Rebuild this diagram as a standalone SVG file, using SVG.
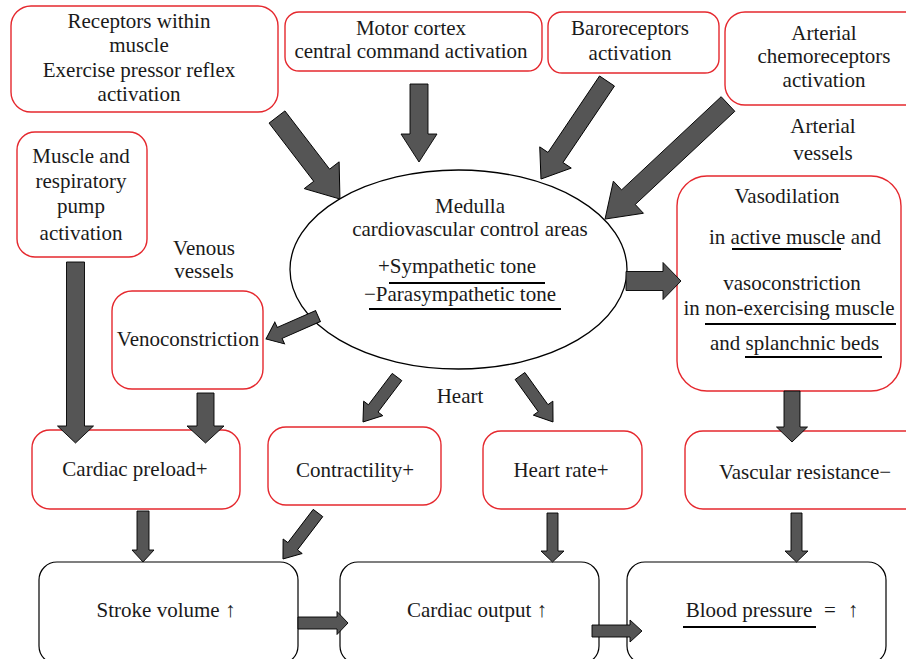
<svg xmlns="http://www.w3.org/2000/svg" width="906" height="659" viewBox="0 0 906 659">
<style>
  text { font-family: 'Liberation Serif', 'DejaVu Serif', serif; font-size: 21px; fill: #1a1a1a; text-anchor: middle; }
  .arrow-glyph { font-family: 'Liberation Serif', 'DejaVu Serif', serif; }
  .rb { fill: #fff; stroke: #e5282e; stroke-width: 1.4; }
  .bb { fill: #fff; stroke: #000; stroke-width: 1.2; }
  .ar { fill: #555; stroke: #000; stroke-width: 0.9; stroke-linejoin: miter; }
  .ul { stroke: #000; stroke-width: 2; }
</style>
<rect width="906" height="659" fill="#fff"/>

<g id="receptors"><rect class="rb" x="11" y="6" width="267" height="106" rx="20"/>
<text x="139" y="28" font-family="Liberation Serif, serif">Receptors within</text><text x="139" y="52">muscle</text><text x="139" y="77">Exercise pressor reflex</text><text x="139" y="101">activation</text></g>

<g id="motor"><rect class="rb" x="285" y="12" width="257" height="59" rx="14"/>
<text x="411" y="35">Motor cortex</text><text x="411" y="58">central command activation</text></g>

<g id="baro"><rect class="rb" x="548" y="12" width="171" height="61" rx="14"/>
<text x="630" y="35">Baroreceptors</text><text x="630" y="60">activation</text></g>

<g id="chemo"><rect class="rb" x="725" y="12" width="200" height="93" rx="20"/>
<text x="824" y="40">Arterial</text><text x="824" y="63">chemoreceptors</text><text x="824" y="87">activation</text></g>

<g id="arterial-label"><text x="823" y="133">Arterial</text><text x="823" y="160">vessels</text></g>

<g id="pump"><rect class="rb" x="17" y="132" width="130" height="125" rx="18"/>
<text x="81" y="163">Muscle and</text><text x="81" y="188">respiratory</text><text x="81" y="213">pump</text><text x="81" y="240">activation</text></g>

<g id="venous-label"><text x="204" y="255">Venous</text><text x="204" y="278">vessels</text></g>

<g id="veno"><rect class="rb" x="112" y="291" width="151" height="98" rx="20"/>
<text x="188" y="346">Venoconstriction</text></g>

<g id="medulla"><ellipse cx="458.5" cy="269.5" rx="168.5" ry="99.5" fill="#fff" stroke="#000" stroke-width="1.3"/>
<text x="470" y="213">Medulla</text><text x="470" y="236">cardiovascular control areas</text>
<text x="457" y="273">+Sympathetic tone</text><text x="460" y="301">−Parasympathetic tone</text>
<line class="ul" x1="389" y1="283" x2="545" y2="283"/><line class="ul" x1="369" y1="309" x2="561" y2="309"/></g>

<g id="heart-label"><text x="460" y="403">Heart</text></g>

<g id="vaso"><rect class="rb" x="677" y="176" width="224" height="215" rx="30"/>
<text x="787" y="203">Vasodilation</text>
<text x="795" y="244">in active muscle and</text>
<text x="792" y="290">vasoconstriction</text>
<text x="789" y="315">in non-exercising muscle</text>
<text x="794.5" y="350">and splanchnic beds</text>
<line class="ul" x1="732" y1="249" x2="841" y2="249"/>
<line class="ul" x1="705" y1="324" x2="896" y2="324"/>
<line class="ul" x1="745" y1="357" x2="882" y2="357"/></g>

<g id="preload"><rect class="rb" x="32" y="430" width="208" height="79" rx="18"/>
<text x="135" y="476">Cardiac preload+</text></g>

<g id="contract"><rect class="rb" x="268" y="427" width="173" height="78" rx="18"/>
<text x="355" y="477">Contractility+</text></g>

<g id="hr"><rect class="rb" x="483" y="431" width="159" height="78" rx="18"/>
<text x="561" y="477">Heart rate+</text></g>

<g id="vr"><rect class="rb" x="685" y="431" width="240" height="78" rx="18"/>
<text x="805" y="479">Vascular resistance−</text></g>

<g id="sv"><rect class="bb" x="39" y="562" width="259" height="102" rx="18"/>
<text x="166" y="617">Stroke volume ↑</text></g>

<g id="co"><rect class="bb" x="340" y="562" width="259" height="102" rx="18"/>
<text x="477" y="617">Cardiac output ↑</text></g>

<g id="bp"><rect class="bb" x="627" y="562" width="259" height="102" rx="18"/>
<text x="749" y="617">Blood pressure</text><text x="830" y="617">=</text><text x="853" y="617">↑</text>
<line class="ul" x1="683" y1="627" x2="816" y2="627"/></g>

<g id="connectors">
<polygon class="ar" transform="translate(277,117) rotate(52.5)" points="0,-10 73.4,-10 73.4,-22 103.4,0 73.4,22 73.4,10 0,10"/>
<polygon class="ar" transform="translate(419,84) rotate(90)" points="0,-9 50,-9 50,-18 78,0 50,18 50,9 0,9"/>
<polygon class="ar" transform="translate(607,81) rotate(123.96)" points="0,-9 92.2,-9 92.2,-19 118.2,0 92.2,19 92.2,9 0,9"/>
<polygon class="ar" transform="translate(728,104) rotate(136.9)" points="0,-10 136.4,-10 136.4,-22 168.4,0 136.4,22 136.4,10 0,10"/>
<polygon class="ar" transform="translate(75.5,262) rotate(90)" points="0,-9 164,-9 164,-18 181,0 164,18 164,9 0,9"/>
<polygon class="ar" transform="translate(205.5,393) rotate(90)" points="0,-8.5 33,-8.5 33,-18.5 50,0 33,18.5 33,8.5 0,8.5"/>
<polygon class="ar" transform="translate(318,316) rotate(156.1)" points="0,-6 41.9,-6 41.9,-12 56.9,0 41.9,12 41.9,6 0,6"/>
<polygon class="ar" transform="translate(397,377) rotate(127.1)" points="0,-6 39.4,-6 39.4,-12 56.4,0 39.4,12 39.4,6 0,6"/>
<polygon class="ar" transform="translate(520,376) rotate(54.3)" points="0,-6 39.6,-6 39.6,-12 56.6,0 39.6,12 39.6,6 0,6"/>
<polygon class="ar" transform="translate(626,281)" points="0,-9.5 37,-9.5 37,-18.5 55,0 37,18.5 37,9.5 0,9.5"/>
<polygon class="ar" transform="translate(792,391) rotate(90)" points="0,-8 36,-8 36,-15.5 51,0 36,15.5 36,8 0,8"/>
<polygon class="ar" transform="translate(143,511) rotate(90)" points="0,-6 39,-6 39,-11 51,0 39,11 39,6 0,6"/>
<polygon class="ar" transform="translate(318,513) rotate(127.3)" points="0,-6 41.8,-6 41.8,-12 57.8,0 41.8,12 41.8,6 0,6"/>
<polygon class="ar" transform="translate(552.5,513) rotate(90)" points="0,-5.5 38,-5.5 38,-11.5 49,0 38,11.5 38,5.5 0,5.5"/>
<polygon class="ar" transform="translate(796.5,513) rotate(90)" points="0,-5.5 38,-5.5 38,-11.5 49,0 38,11.5 38,5.5 0,5.5"/>
<polygon class="ar" transform="translate(298,623)" points="0,-6 39,-6 39,-11.5 50,0 39,11.5 39,6 0,6"/>
<polygon class="ar" transform="translate(592,631)" points="0,-6 38,-6 38,-11 50,0 38,11 38,6 0,6"/>
</g>
</svg>
